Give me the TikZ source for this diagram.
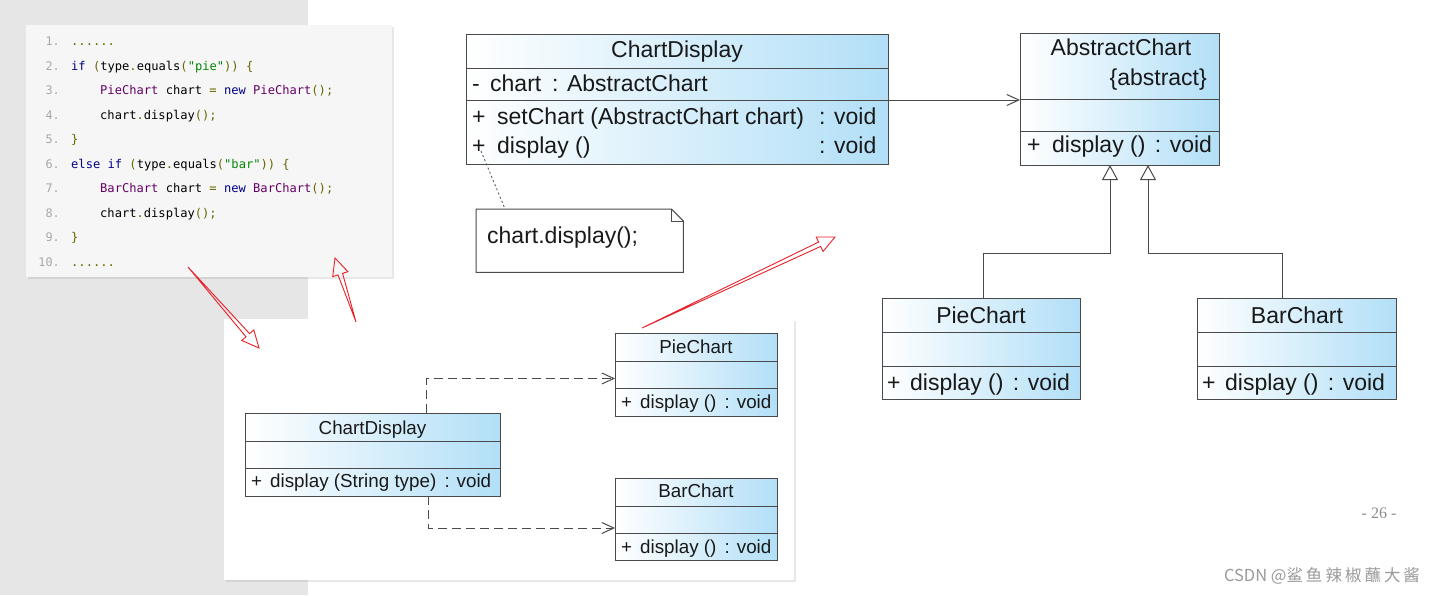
\documentclass[tikz,border=0pt]{standalone}
\usepackage{fontspec}
\setmainfont{Liberation Sans}
\newfontfamily\codefont{DejaVu Sans Mono}
\newfontfamily\cjkfont{Noto Sans CJK SC}
\newfontfamily\pagefont{Liberation Serif}
\usetikzlibrary{arrows.meta,shadows,calc}
\definecolor{bggray}{HTML}{E6E6E6}
\definecolor{codebg}{HTML}{F6F6F6}
\definecolor{umlblue}{RGB}{178,223,247}
\definecolor{umlline}{HTML}{4A4A4A}
\definecolor{kwdc}{HTML}{000088}
\definecolor{typc}{HTML}{660066}
\definecolor{strc}{HTML}{008800}
\definecolor{punc}{HTML}{666600}
\definecolor{lnum}{HTML}{A8A8A8}
\definecolor{redarrow}{HTML}{E8202A}
\definecolor{pagegray}{HTML}{8C8C8C}
\definecolor{wmgray}{HTML}{9A9A9A}
\newcommand\ckw[1]{\textcolor{kwdc}{#1}}
\newcommand\cty[1]{\textcolor{typc}{#1}}
\newcommand\cstr[1]{\textcolor{strc}{#1}}
\newcommand\cpun[1]{\textcolor{punc}{#1}}
\newcommand\gapv{\hspace{3pt}}
% hollow tapered red arrow from #1 (tail) to #2 (head)
\newcommand\redarrowdraw[2]{%
  \path ($(#2)!17pt!(#1)$) coordinate (rab);
  \draw[redarrow, line width=0.9pt, line join=miter]
    (#1) -- ($(rab)!2.4pt!90:(#2)$) -- ($(rab)!8pt!90:(#2)$) -- (#2)
    -- ($(rab)!8pt!-90:(#2)$) -- ($(rab)!2.4pt!-90:(#2)$) -- cycle;
}
\begin{document}
\begin{tikzpicture}[x=1pt,y=-1pt,
  sec/.style={draw=umlline, line width=1pt, left color=white, right color=umlblue, anchor=north west, inner sep=0pt, outer sep=0pt},
  bigtxt/.style={font=\fontsize{23}{23}\selectfont, inner sep=0pt, anchor=base west, text=black!90},
  smalltxt/.style={font=\fontsize{18.8}{18.8}\selectfont, inner sep=0pt, anchor=base west, text=black!90},
  codeline/.style={font=\codefont\fontsize{12.1}{12.1}\selectfont, inner sep=0pt, anchor=base west},
  lnumstyle/.style={font=\codefont\fontsize{11.8}{11.8}\selectfont, inner sep=0pt, anchor=base east, text=lnum},
  dep/.style={draw=umlline, line width=1pt, -{Straight Barb[length=12pt,width=11pt]}},
  depdash/.style={dep, dash pattern=on 9pt off 5pt},
  inh/.style={draw=umlline, line width=1pt, -{Triangle[length=15pt, width=16pt, fill=white]}},
  panel/.style={anchor=north west, inner sep=0pt, outer sep=0pt, drop shadow={opacity=0.18, shadow xshift=1.5pt, shadow yshift=-1.5pt}},
]
\useasboundingbox (0,0) rectangle (1444,595);
\fill[white] (0,0) rectangle (1444,595);
\fill[bggray] (0,0) rectangle (308,595);

% ---------- code panel ----------
\node[panel, fill=codebg, minimum width=366pt, minimum height=252pt] (codebox) at (26,25) {};
\foreach \n in {1,...,10} {
  \node[lnumstyle] (ln\n) at (60,{45.5+(\n-1)*24.5}) {\n.};
}
\node[codeline] (c1) at (71,45.5) {\cpun{......}};
\node[codeline] (c2) at (71,70) {\ckw{if} \cpun{(}type\cpun{.}equals\cpun{(}\cstr{"pie"}\cpun{)) \{}};
\node[codeline] (c3) at (100,94.5) {\cty{PieChart} chart \cpun{=} \ckw{new} \cty{PieChart}\cpun{();}};
\node[codeline] (c4) at (100,119) {chart\cpun{.}display\cpun{();}};
\node[codeline] (c5) at (71,143.5) {\cpun{\}}};
\node[codeline] (c6) at (71,168) {\ckw{else} \ckw{if} \cpun{(}type\cpun{.}equals\cpun{(}\cstr{"bar"}\cpun{)) \{}};
\node[codeline] (c7) at (100,192.5) {\cty{BarChart} chart \cpun{=} \ckw{new} \cty{BarChart}\cpun{();}};
\node[codeline] (c8) at (100,217) {chart\cpun{.}display\cpun{();}};
\node[codeline] (c9) at (71,241.5) {\cpun{\}}};
\node[codeline] (c10) at (71,266) {\cpun{......}};

% ---------- bottom panel ----------
\node[panel, fill=white, minimum width=570pt, minimum height=261pt] (bpanel) at (224,319) {};

% small ChartDisplay
\node[sec, minimum width=255pt, minimum height=28pt] (bcd-name) at (245,413) {};
\node[sec, minimum width=255pt, minimum height=27pt] (bcd-attr) at (245,441) {};
\node[sec, minimum width=255pt, minimum height=28pt] (bcd-ops) at (245,468) {};
\node[smalltxt, anchor=base] (bcd-t) at (372.5,434) {ChartDisplay};
\node[smalltxt] (bcd-op) at (251,487) {+};
\node[smalltxt] (bcd-o) at (270,487) {display (String type)\gapv{} : void};

% small PieChart
\node[sec, minimum width=162pt, minimum height=28pt] (bpie-name) at (615,333) {};
\node[sec, minimum width=162pt, minimum height=27pt] (bpie-attr) at (615,361) {};
\node[sec, minimum width=162pt, minimum height=28pt] (bpie-ops) at (615,388) {};
\node[smalltxt, anchor=base] (bpie-t) at (696,353) {PieChart};
\node[smalltxt] (bpie-op) at (621,408) {+};
\node[smalltxt] (bpie-o) at (640,408) {display ()\gapv{} : void};

% small BarChart
\node[sec, minimum width=162pt, minimum height=28pt] (bbar-name) at (615,478) {};
\node[sec, minimum width=162pt, minimum height=27pt] (bbar-attr) at (615,506) {};
\node[sec, minimum width=162pt, minimum height=27pt] (bbar-ops) at (615,533) {};
\node[smalltxt, anchor=base] (bbar-t) at (696,497) {BarChart};
\node[smalltxt] (bbar-op) at (621,553) {+};
\node[smalltxt] (bbar-o) at (640,553) {display ()\gapv{} : void};

\draw[depdash] ([xshift=53.5pt]bcd-name.north) |- ([yshift=-4pt]bpie-attr.west);
\draw[depdash] ([xshift=55.5pt]bcd-ops.south) |- ([yshift=-8.5pt]bbar-attr.west);

% ---------- big ChartDisplay ----------
\node[sec, minimum width=422pt, minimum height=34pt] (cd-name) at (466,34) {};
\node[sec, minimum width=422pt, minimum height=32pt] (cd-attr) at (466,68) {};
\node[sec, minimum width=422pt, minimum height=64pt] (cd-ops) at (466,100) {};
\node[bigtxt, anchor=base] (cd-t) at (677,57) {ChartDisplay};
\node[bigtxt] (cd-a1) at (472,91) {-};
\node[bigtxt] (cd-a2) at (490,91) {chart};
\node[bigtxt] (cd-a3) at (552,91) {: AbstractChart};
\node[bigtxt] (cd-o1p) at (472,124) {+};
\node[bigtxt] (cd-o1) at (497,124) {setChart (AbstractChart chart)};
\node[bigtxt] (cd-o1r) at (819,124) {: void};
\node[bigtxt] (cd-o2p) at (472,153) {+};
\node[bigtxt] (cd-o2) at (497,153) {display ()};
\node[bigtxt] (cd-o2r) at (819,153) {: void};

% note
\node[minimum width=207pt, minimum height=63pt, anchor=north west, inner sep=0pt] (note) at (476,209) {};
\draw[umlline, line width=1pt, fill=white] (note.north west) -- ([xshift=-12pt]note.north east) -- ([yshift=-12pt]note.north east) -- (note.south east) -- (note.south west) -- cycle;
\draw[umlline, line width=1pt] ([xshift=-12pt]note.north east) |- ([yshift=-12pt]note.north east);
\node[bigtxt] (note-t) at (487,243) {chart.display();};
\coordinate (dotsrc) at (481,151);
\draw[umlline, line width=0.8pt, dash pattern=on 2pt off 2.5pt] (dotsrc) -- ([xshift=29pt]note.north west);

% ---------- AbstractChart ----------
\node[sec, minimum width=199pt, minimum height=66pt] (ac-name) at (1020,33) {};
\node[sec, minimum width=199pt, minimum height=32pt] (ac-attr) at (1020,99) {};
\node[sec, minimum width=199pt, minimum height=34pt] (ac-ops) at (1020,131) {};
\node[bigtxt, anchor=base] (ac-t) at (1121,55) {AbstractChart};
\node[bigtxt, anchor=base east] (ac-abs) at (1207,85) {\{abstract\}};
\node[bigtxt] (ac-op) at (1027,152) {+};
\node[bigtxt] (ac-o) at (1052,152) {display ()\gapv{} : void};

\draw[dep] (cd-attr.south east) -- (cd-attr.south east -| ac-name.west);

% ---------- big PieChart / BarChart ----------
\node[sec, minimum width=198pt, minimum height=34pt] (pie-name) at (882,298) {};
\node[sec, minimum width=198pt, minimum height=34pt] (pie-attr) at (882,332) {};
\node[sec, minimum width=198pt, minimum height=33pt] (pie-ops) at (882,366) {};
\node[bigtxt, anchor=base] (pie-t) at (981,323) {PieChart};
\node[bigtxt] (pie-op) at (887,390) {+};
\node[bigtxt] (pie-o) at (910,390) {display ()\gapv{} : void};

\node[sec, minimum width=199pt, minimum height=34pt] (bar-name) at (1197,298) {};
\node[sec, minimum width=199pt, minimum height=34pt] (bar-attr) at (1197,332) {};
\node[sec, minimum width=199pt, minimum height=33pt] (bar-ops) at (1197,366) {};
\node[bigtxt, anchor=base] (bar-t) at (1297,323) {BarChart};
\node[bigtxt] (bar-op) at (1202,390) {+};
\node[bigtxt] (bar-o) at (1225,390) {display ()\gapv{} : void};

\coordinate (ja) at (1110,253);
\coordinate (jb) at (1148,253);
\draw[inh] ([xshift=2.5pt]pie-name.north) |- (ja) -- (ja |- ac-ops.south);
\draw[inh] ([xshift=-14pt]bar-name.north) |- (jb) -- (jb |- ac-ops.south);

% ---------- red arrows ----------
\coordinate (r1a) at (188,267);
\coordinate (r1b) at (259,348);
\coordinate (r2a) at (356,322);
\coordinate (r2b) at (335,258);
\coordinate (r3a) at (642,328);
\coordinate (r3b) at (835,237);
\redarrowdraw{r1a}{r1b}
\redarrowdraw{r2a}{r2b}
\redarrowdraw{r3a}{r3b}

% ---------- page number and watermark ----------
\node[font=\pagefont\fontsize{16}{16}\selectfont, text=pagegray, inner sep=0pt] (pg) at (1379,513) {- 26 -};
\node[font=\cjkfont\fontsize{16.5}{16.5}\selectfont, text=wmgray, inner sep=0pt] (wm) at (1322,576) {CSDN @鲨\hspace{3pt}鱼\hspace{3pt}辣\hspace{3pt}椒\hspace{3pt}蘸\hspace{3pt}大\hspace{3pt}酱};
\end{tikzpicture}
\end{document}
